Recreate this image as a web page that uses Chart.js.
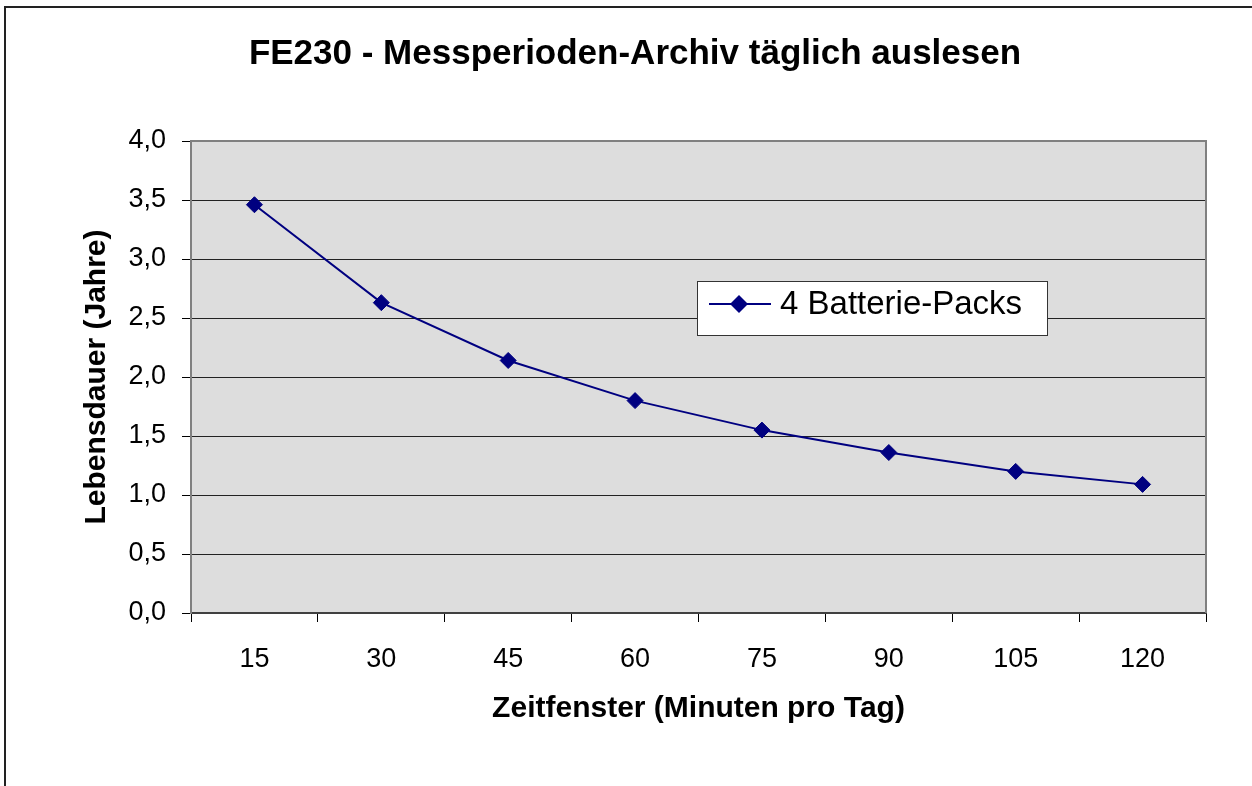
<!DOCTYPE html>
<html>
<head>
<meta charset="utf-8">
<script src="https://cdn.jsdelivr.net/npm/chart.js@4.4.1/dist/chart.umd.min.js"></script>
<style>
  html, body { margin: 0; padding: 0; background: #fff; }
  #wrap { width: 1252px; height: 786px; position: relative; }
</style>
</head>
<body>
<div id="wrap"><canvas id="c" width="1252" height="786"></canvas></div>
<script>
const categories = ['15', '30', '45', '60', '75', '90', '105', '120'];
const lifetimeYears = [3.46, 2.63, 2.14, 1.80, 1.55, 1.36, 1.20, 1.09];
const seriesLabel = '4 Batterie-Packs';
const chartTitle = 'FE230 - Messperioden-Archiv täglich auslesen';
const xTitle = 'Zeitfenster (Minuten pro Tag)';
const yTitle = 'Lebensdauer (Jahre)';

const FONT = "'Liberation Sans', Arial, sans-serif";
const NAVY = '#000080';

const decor = {
  id: 'decor',
  beforeDraw(chart) {
    const { ctx, chartArea: a } = chart;
    ctx.save();
    ctx.fillStyle = '#DDDDDD';
    ctx.fillRect(a.left, a.top, a.right - a.left, a.bottom - a.top);
    ctx.restore();
  },
  beforeDatasetsDraw(chart) {
    const { ctx, chartArea: a } = chart;
    ctx.save();
    ctx.strokeStyle = '#808080';
    ctx.lineWidth = 2;
    ctx.beginPath();
    ctx.moveTo(a.left, a.top);
    ctx.lineTo(a.right, a.top);
    ctx.lineTo(a.right, a.bottom);
    ctx.stroke();
    ctx.restore();
  },
  afterDraw(chart) {
    const { ctx } = chart;
    ctx.save();
    // outer chart border (clipped by the window on right and bottom)
    ctx.strokeStyle = '#222';
    ctx.lineWidth = 2;
    ctx.strokeRect(5, 7, 3000, 3000);
    // legend box
    const ds = chart.data.datasets[0];
    const bx = 697.5, by = 281.5, bw = 350, bh = 54;
    ctx.fillStyle = '#fff';
    ctx.fillRect(bx, by, bw, bh);
    ctx.strokeStyle = '#333';
    ctx.lineWidth = 1;
    ctx.strokeRect(bx, by, bw, bh);
    const ly = 304;
    ctx.strokeStyle = ds.borderColor;
    ctx.lineWidth = 2;
    ctx.beginPath();
    ctx.moveTo(709, ly);
    ctx.lineTo(771, ly);
    ctx.stroke();
    ctx.fillStyle = ds.pointBackgroundColor;
    ctx.beginPath();
    ctx.moveTo(739, ly - 9); ctx.lineTo(748, ly); ctx.lineTo(739, ly + 9); ctx.lineTo(730, ly); ctx.closePath();
    ctx.fill();
    ctx.fillStyle = '#000';
    ctx.font = '33px ' + FONT;
    ctx.textBaseline = 'middle';
    ctx.textAlign = 'left';
    ctx.fillText(ds.label, 780, ly + 1);
    ctx.restore();
  }
};

const fmt = v => Number(v).toFixed(1).replace('.', ',');

new Chart(document.getElementById('c'), {
  type: 'line',
  data: {
    labels: categories,
    datasets: [{
      label: seriesLabel,
      data: lifetimeYears,
      borderColor: NAVY,
      backgroundColor: NAVY,
      pointBackgroundColor: NAVY,
      pointBorderColor: NAVY,
      pointStyle: 'rectRot',
      pointRadius: 8,
      pointBorderWidth: 1,
      borderWidth: 2,
      tension: 0,
      fill: false
    }]
  },
  options: {
    responsive: false,
    animation: false,
    devicePixelRatio: 1,
    layout: { padding: { left: 64, right: 46, top: 0, bottom: 0 } },
    plugins: {
      legend: { display: false },
      tooltip: { enabled: false },
      title: {
        display: true,
        text: chartTitle,
        color: '#000',
        font: { family: FONT, size: 35, weight: 'bold' },
        padding: { top: 33, bottom: 66 }
      }
    },
    scales: {
      x: {
        type: 'category',
        offset: true,
        afterFit(scale) { scale.height = 173; },
        grid: {
          offset: true,
          drawOnChartArea: false,
          drawTicks: true,
          tickLength: 9,
          tickColor: '#000',
          tickWidth: 1
        },
        border: { display: true, color: '#404040', width: 2 },
        ticks: {
          color: '#000',
          padding: 21,
          maxRotation: 0,
          font: { family: FONT, size: 27 }
        },
        title: {
          display: true,
          text: xTitle,
          color: '#000',
          font: { family: FONT, size: 30, weight: 'bold' },
          padding: { top: 0, bottom: 59 }
        }
      },
      y: {
        min: 0,
        max: 4,
        afterFit(scale) { scale.width = 127; },
        grid: {
          color: '#222',
          lineWidth: 1,
          drawTicks: true,
          tickLength: 9,
          tickColor: '#000'
        },
        border: { display: true, color: '#808080', width: 2 },
        ticks: {
          stepSize: 0.5,
          color: '#000',
          padding: 16,
          font: { family: FONT, size: 27 },
          callback: v => fmt(v)
        },
        title: {
          display: true,
          text: yTitle,
          color: '#000',
          font: { family: FONT, size: 30, weight: 'bold' },
          padding: { top: 15, bottom: 0 }
        }
      }
    }
  },
  plugins: [decor]
});
</script>
</body>
</html>
